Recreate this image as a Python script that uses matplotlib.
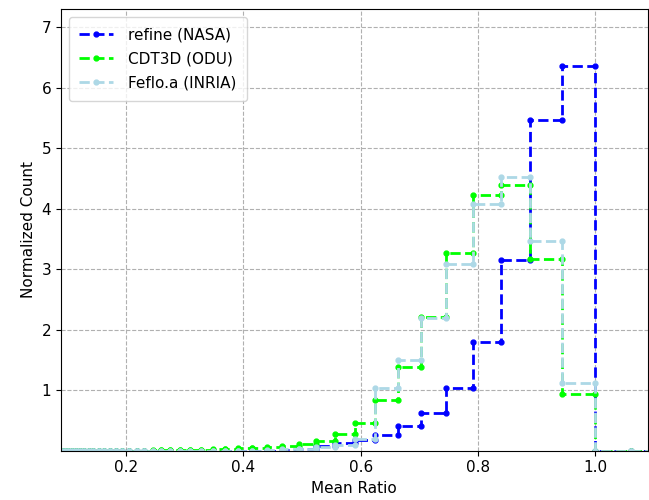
import numpy as np
import matplotlib
matplotlib.use("Agg")
import matplotlib.pyplot as plt

# bin edges (Mean Ratio)
edges = [0.085, 0.090, 0.096, 0.101, 0.108, 0.114, 0.121, 0.128, 0.136, 0.144,
         0.153, 0.162, 0.172, 0.182, 0.193, 0.205, 0.218, 0.231, 0.245, 0.259,
         0.275, 0.292, 0.309, 0.328, 0.348, 0.369, 0.391, 0.415, 0.440, 0.466,
         0.494, 0.524, 0.556, 0.590, 0.625, 0.663, 0.703, 0.746, 0.791, 0.839,
         0.889, 0.943, 1.000, 1.060, 1.124]

refine = [0, 0, 0, 0, 0, 0, 0, 0, 0, 0,
          0, 0, 0, 0, 0, 0, 0, 0, 0, 0,
          0, 0, 0, 0, 0, 0, 0, 0, 0, 0.01,
          0.03, 0.07, 0.12, 0.17, 0.256, 0.405, 0.615, 1.033, 1.788, 3.15,
          5.46, 6.355, 0, 0]

cdt3d = [0, 0, 0, 0, 0, 0, 0, 0, 0, 0,
         0, 0, 0, 0, 0, 0, 0, 0, 0.003, 0.004,
         0.005, 0.008, 0.01, 0.015, 0.02, 0.025, 0.035, 0.045, 0.06, 0.08,
         0.11, 0.16, 0.265, 0.46, 0.835, 1.375, 2.21, 3.27, 4.22, 4.39,
         3.16, 0.93, 0, 0]

feflo = [0, 0, 0, 0, 0, 0, 0, 0, 0, 0,
         0, 0, 0, 0, 0, 0, 0, 0, 0, 0,
         0, 0, 0, 0, 0, 0, 0, 0, 0.01, 0.02,
         0.03, 0.05, 0.09, 0.185, 1.03, 1.50, 2.185, 3.09, 4.07, 4.53,
         3.47, 1.11, 0, 0]

labels = ["refine (NASA)", "CDT3D (ODU)", "Feflo.a (INRIA)"]
colors = ["blue", "lime", "lightblue"]


def step_xy(edges, heights):
    # horizontal segment per bin, vertical jumps between bins
    e = np.asarray(edges)
    h = np.asarray(heights)
    x = np.column_stack([e[:-1], e[1:]]).ravel()
    y = np.repeat(h, 2)
    return x, y


fig = plt.figure(figsize=(6.49, 5.0), dpi=100)
ax = fig.add_axes([0.094, 0.099, 0.904, 0.883])

for data, lab, col in zip([refine, cdt3d, feflo], labels, colors):
    x, y = step_xy(edges, data)
    ax.plot(x, y, '.--', color=col, label=lab, linewidth=2.0, markersize=7)

ax.set_xlim(0.089, 1.089)
ax.set_ylim(0, 7.3)
ax.set_xticks([0.2, 0.4, 0.6, 0.8, 1.0])
ax.set_yticks([1, 2, 3, 4, 5, 6, 7])
ax.tick_params(labelsize=11)
ax.grid(True, linestyle='--', color='#b0b0b0')
ax.set_axisbelow(True)
ax.set_xlabel("Mean Ratio", fontsize=11)
ax.set_ylabel("Normalized Count", fontsize=11)
ax.legend(loc='upper left', fontsize=11, handletextpad=1.0, handlelength=2.2,
          borderpad=0.7, labelspacing=0.6)

fig.savefig("out.png", dpi=100)
